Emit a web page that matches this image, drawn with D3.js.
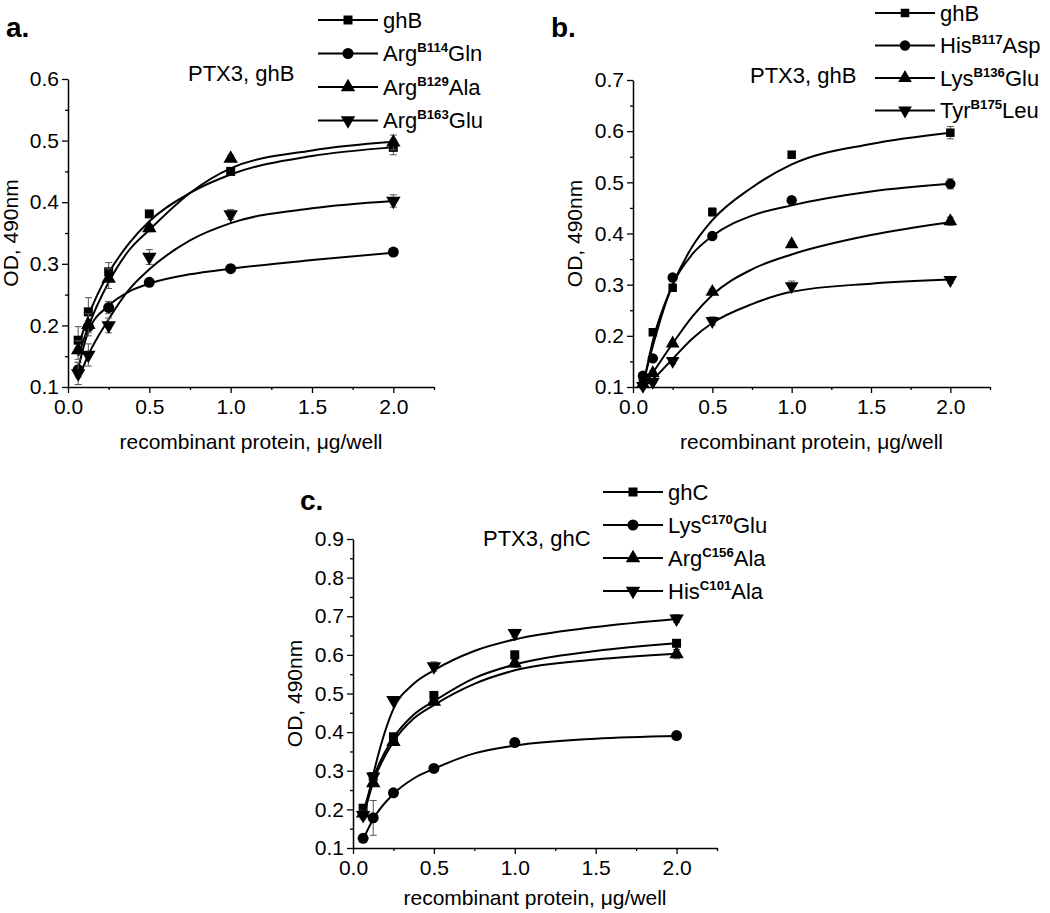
<!DOCTYPE html>
<html><head><meta charset="utf-8">
<script src="https://cdn.jsdelivr.net/npm/d3@7"></script>
<style>body{margin:0;background:#fff} text{font-family:Arial,"Liberation Sans",sans-serif;fill:#000}</style>
</head><body><svg id="chart" width="1050" height="913"></svg>
<script>
// ---------- data ----------
const doses = [0.0625, 0.125, 0.25, 0.5, 1.0, 2.0];
const fitDoses = [0.0625, 0.125, 0.25, 0.375, 0.5, 0.75, 1.0, 1.5, 2.0];
const xTickValues = [0, 0.5, 1.0, 1.5, 2.0];
const xMinorTicks = [0.25, 0.75, 1.25, 1.75, 2.25];
const markerKinds = ["square", "circle", "triangle", "down"];

// panel a
const aTitle = "PTX3, ghB";
const aLabels = ["ghB", "Arg^B114^Gln", "Arg^B129^Ala", "Arg^B163^Glu"];
const aValues = [
  [0.176, 0.222, 0.287, 0.381, 0.450, 0.489],
  [0.128, 0.198, 0.229, 0.270, 0.292, 0.319],
  [0.160, 0.201, 0.276, 0.358, 0.471, 0.497],
  [0.122, 0.152, 0.200, 0.311, 0.380, 0.402]
];
const aErrors = [
  [0.022, 0.023, 0.015, 0.005, 0.006, 0.012],
  [0.012, 0.010, 0.010, 0.004, 0.004, 0.004],
  [0.015, 0.018, 0.016, 0.006, 0.005, 0.012],
  [0.018, 0.018, 0.012, 0.012, 0.008, 0.010]
];
const aFits = [
  [0.165, 0.215, 0.285, 0.333, 0.369, 0.415, 0.445, 0.475, 0.489],
  [0.130, 0.190, 0.232, 0.255, 0.268, 0.283, 0.292, 0.306, 0.318],
  [0.150, 0.198, 0.270, 0.322, 0.355, 0.415, 0.455, 0.484, 0.498],
  [0.112, 0.152, 0.210, 0.258, 0.291, 0.338, 0.366, 0.390, 0.402]
];
const aYTicks = [0.1, 0.2, 0.3, 0.4, 0.5, 0.6];

// panel b
const bTitle = "PTX3, ghB";
const bLabels = ["ghB", "His^B117^Asp", "Lys^B136^Glu", "Tyr^B175^Leu"];
const bValues = [
  [0.114, 0.207, 0.294, 0.442, 0.554, 0.597],
  [0.122, 0.156, 0.314, 0.395, 0.465, 0.497],
  [0.106, 0.127, 0.185, 0.286, 0.379, 0.424],
  [0.102, 0.110, 0.151, 0.229, 0.297, 0.309]
];
const bErrors = [
  [0.005, 0.005, 0.005, 0.008, 0.006, 0.012],
  [0.004, 0.004, 0.004, 0.004, 0.004, 0.010],
  [0.004, 0.004, 0.004, 0.005, 0.005, 0.008],
  [0.004, 0.004, 0.006, 0.008, 0.010, 0.006]
];
const bFits = [
  [0.100, 0.190, 0.300, 0.375, 0.426, 0.490, 0.535, 0.575, 0.597],
  [0.105, 0.180, 0.300, 0.360, 0.395, 0.435, 0.455, 0.482, 0.497],
  [0.100, 0.128, 0.185, 0.238, 0.280, 0.330, 0.359, 0.397, 0.422],
  [0.100, 0.115, 0.155, 0.195, 0.225, 0.262, 0.286, 0.302, 0.310]
];
const bYTicks = [0.1, 0.2, 0.3, 0.4, 0.5, 0.6, 0.7];

// panel c
const cTitle = "PTX3, ghC";
const cLabels = ["ghC", "Lys^C170^Glu", "Arg^C156^Ala", "His^C101^Ala"];
const cValues = [
  [0.203, 0.285, 0.388, 0.495, 0.600, 0.630],
  [0.125, 0.178, 0.243, 0.306, 0.373, 0.391],
  [0.190, 0.268, 0.375, 0.479, 0.578, 0.602],
  [0.185, 0.285, 0.483, 0.570, 0.656, 0.694]
];
const cErrors = [
  [0.008, 0.008, 0.008, 0.010, 0.010, 0.006],
  [0.005, 0.045, 0.006, 0.005, 0.010, 0.004],
  [0.010, 0.008, 0.008, 0.008, 0.010, 0.012],
  [0.010, 0.008, 0.006, 0.012, 0.010, 0.010]
];
const cFits = [
  [0.190, 0.280, 0.385, 0.445, 0.480, 0.540, 0.575, 0.610, 0.630],
  [0.122, 0.175, 0.240, 0.280, 0.305, 0.345, 0.365, 0.383, 0.390],
  [0.180, 0.270, 0.375, 0.435, 0.470, 0.525, 0.560, 0.588, 0.603],
  [0.170, 0.290, 0.460, 0.525, 0.560, 0.610, 0.640, 0.672, 0.693]
];
const cYTicks = [0.1, 0.2, 0.3, 0.4, 0.5, 0.6, 0.7, 0.8, 0.9];

// ---------- drawing ----------
const svg = d3.select("#chart");

function markerPath(kind, size) {
  if (kind === "square") return d3.symbol(d3.symbolSquare, size * 0.85)();
  if (kind === "circle") return d3.symbol(d3.symbolCircle, size)();
  return d3.symbol(d3.symbolTriangle, size * 0.95)();
}
function drawMarker(g, kind, cx, cy, size) {
  g.append("path")
    .attr("d", markerPath(kind, size))
    .attr("transform", `translate(${cx},${cy})` + (kind === "down" ? " rotate(180)" : ""))
    .attr("fill", "#000");
}

function drawPanel(p) {
  const g = svg.append("g");
  const x = d3.scaleLinear().domain([0, 2.25]).range([p.x0, p.x1]);
  const y = d3.scaleLinear().domain([p.yTicks[0], p.yTicks[p.yTicks.length - 1]]).range([p.yb, p.yt]);
  const yMinor = p.yTicks.slice(0, -1).map(v => +(v + 0.05).toFixed(2));

  // axes
  g.append("g").attr("transform", `translate(${p.x0},0)`)
    .call(d3.axisLeft(y).tickValues(p.yTicks).tickSize(6).tickSizeOuter(0).tickPadding(3).tickFormat(d3.format(".1f")));
  g.append("g").attr("transform", `translate(${p.x0},0)`)
    .call(d3.axisLeft(y).tickValues(yMinor).tickSize(3).tickFormat(""))
    .select(".domain").remove();
  g.append("g").attr("transform", `translate(0,${p.yb})`)
    .call(d3.axisBottom(x).tickValues(xTickValues).tickSize(6).tickSizeOuter(0).tickPadding(6).tickFormat(d3.format(".1f")));
  g.append("g").attr("transform", `translate(0,${p.yb})`)
    .call(d3.axisBottom(x).tickValues(xMinorTicks).tickSize(3).tickFormat(""))
    .select(".domain").remove();
  g.selectAll(".domain").attr("stroke", "#000").attr("stroke-width", 1.5);
  g.selectAll(".tick line").attr("stroke", "#000").attr("stroke-width", 1.3);
  g.selectAll(".tick text").attr("font-size", p.fs).attr("font-family", "Arial, 'Liberation Sans', sans-serif").attr("fill", "#000");

  // axis titles
  g.append("text").attr("transform", `translate(${p.ytx},${(p.yt + p.yb) / 2}) rotate(-90)`)
    .attr("text-anchor", "middle").attr("font-size", p.fs).text("OD, 490nm");
  g.append("text").attr("x", (p.x0 + p.x1) / 2).attr("y", p.xty)
    .attr("text-anchor", "middle").attr("font-size", p.fs).text("recombinant protein, \u03bcg/well");

  // panel letter and inner title
  g.append("text").attr("x", p.lx).attr("y", p.ly).attr("font-size", 28).attr("font-weight", "bold")
    .attr("font-family", "'Liberation Serif', 'Times New Roman', serif").text(p.letter);
  g.append("text").attr("x", p.tx).attr("y", p.ty).attr("font-size", p.lfs).text(p.title);

  const line = d3.line().x((d, i) => x(fitDoses[i])).y(d => y(d)).curve(d3.curveMonotoneX);

  p.values.forEach((vals, s) => {
    g.append("path").attr("d", line(p.fits[s])).attr("fill", "none").attr("stroke", "#000").attr("stroke-width", 2);
    vals.forEach((v, i) => {
      const e = p.errors[s][i], cx = x(doses[i]);
      g.append("line").attr("x1", cx).attr("x2", cx).attr("y1", y(v - e)).attr("y2", y(v + e)).attr("stroke", "#555").attr("stroke-width", 1);
      [v - e, v + e].forEach(w => g.append("line").attr("x1", cx - 3.5).attr("x2", cx + 3.5).attr("y1", y(w)).attr("y2", y(w)).attr("stroke", "#555").attr("stroke-width", 1));
    });
    vals.forEach((v, i) => drawMarker(g, markerKinds[s], x(doses[i]), y(v), p.ms));
  });

  // legend
  p.labels.forEach((lab, s) => {
    const ry = p.legY + s * p.legDy;
    g.append("line").attr("x1", p.legX).attr("x2", p.legX + 60).attr("y1", ry).attr("y2", ry).attr("stroke", "#000").attr("stroke-width", 2);
    drawMarker(g, markerKinds[s], p.legX + 30, ry, p.ms);
    const parts = lab.split("^");
    const t = g.append("text").attr("x", p.legX + 65).attr("y", ry + p.lfs * 0.36).attr("font-size", p.lfs);
    t.append("tspan").text(parts[0]);
    if (parts.length > 1) {
      t.append("tspan").attr("dy", -p.lfs * 0.42).attr("font-size", p.lfs * 0.6).attr("font-weight", "bold").text(parts[1]);
      t.append("tspan").attr("dy", p.lfs * 0.42).text(parts[2]);
    }
  });
}

drawPanel({letter: "a.", lx: 6, ly: 37, title: aTitle, tx: 188, ty: 81,
  labels: aLabels, values: aValues, errors: aErrors, fits: aFits, yTicks: aYTicks,
  x0: 68, x1: 434, yt: 79, yb: 387, ytx: 18, xty: 449, fs: 21, lfs: 22, ms: 95,
  legX: 318, legY: 20, legDy: 33.5});
drawPanel({letter: "b.", lx: 551, ly: 37, title: bTitle, tx: 750, ty: 83,
  labels: bLabels, values: bValues, errors: bErrors, fits: bFits, yTicks: bYTicks,
  x0: 633, x1: 990, yt: 80, yb: 387, ytx: 582, xty: 449, fs: 21, lfs: 22, ms: 85,
  legX: 875, legY: 13, legDy: 32.5});
drawPanel({letter: "c.", lx: 300, ly: 510, title: cTitle, tx: 483, ty: 546,
  labels: cLabels, values: cValues, errors: cErrors, fits: cFits, yTicks: cYTicks,
  x0: 353, x1: 717, yt: 539, yb: 848, ytx: 302, xty: 905, fs: 21, lfs: 22, ms: 95,
  legX: 603, legY: 492, legDy: 33});
</script></body></html>
